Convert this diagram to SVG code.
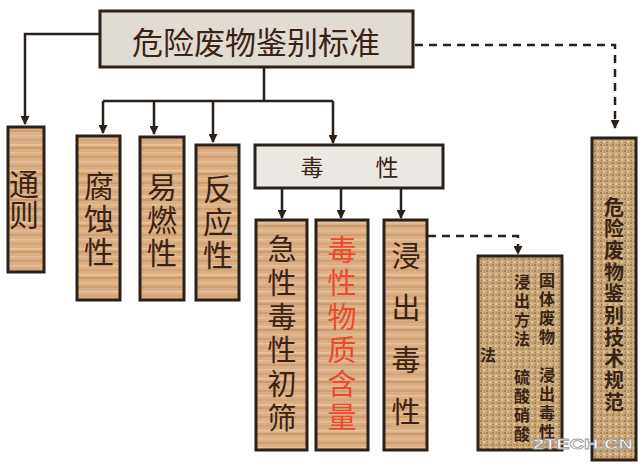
<svg xmlns="http://www.w3.org/2000/svg" width="640" height="467" viewBox="0 0 640 467">
<style>
.frame{stroke:#2a211b;stroke-width:3}
.wood{fill:url(#woodPat);stroke:#2a211b;stroke-width:3}
.cloth{fill:url(#clothPat);stroke:#2a211b;stroke-width:3}
.t{font-family:"Noto Sans CJK SC","Noto Sans CJK TC",sans-serif;fill:#3a2314;text-anchor:middle;dominant-baseline:central}
.v{font-family:"Noto Sans CJK SC","Noto Sans CJK TC",sans-serif;fill:#3a2314;writing-mode:vertical-rl;text-orientation:upright;text-anchor:start}
.red{fill:#ec4a2c}
.ln{fill:none;stroke:#2a211b;stroke-width:2.5}
.dash{fill:none;stroke:#2a211b;stroke-width:2.5;stroke-dasharray:8 6}
</style>
<defs>
<pattern id="woodPat" patternUnits="userSpaceOnUse" width="40" height="26">
<rect width="40" height="26" fill="#dbae84"/>
<rect y="0" width="40" height="2" fill="#cf9e71"/>
<rect y="5" width="40" height="1.5" fill="#e4c19c"/>
<rect y="9" width="40" height="2" fill="#d4a579"/>
<rect y="14" width="40" height="1.5" fill="#e6c5a1"/>
<rect y="17" width="40" height="2" fill="#cc9a6c"/>
<rect y="22" width="40" height="1.5" fill="#e1bd96"/>
</pattern>
<pattern id="clothPat" patternUnits="userSpaceOnUse" width="6" height="6">
<rect width="6" height="6" fill="#c9a779"/>
<rect x="0" y="0" width="2" height="2" fill="#a3825a"/>
<rect x="3" y="3" width="2" height="2" fill="#e0c79f"/>
<rect x="4" y="0" width="1" height="2" fill="#b59266"/>
<rect x="1" y="4" width="1" height="1" fill="#93734b"/>
</pattern>
<marker id="arr" markerUnits="userSpaceOnUse" markerWidth="9" markerHeight="9" refX="8" refY="4.5" orient="auto">
<path d="M0,0 L9,4.5 L0,9 z" fill="#2a211b"/>
</marker>
</defs>
<rect width="640" height="467" fill="#ffffff"/>

<g id="connectors">
<path class="ln" d="M100,34 H25 V124" marker-end="url(#arr)"/>
<path class="ln" d="M264,68 V101"/>
<path class="ln" d="M103,101 H333"/>
<path class="ln" d="M103,101 V133" marker-end="url(#arr)"/>
<path class="ln" d="M154,101 V134" marker-end="url(#arr)"/>
<path class="ln" d="M213,101 V142" marker-end="url(#arr)"/>
<path class="ln" d="M333,101 V143" marker-end="url(#arr)"/>
<path class="ln" d="M282,189 V218" marker-end="url(#arr)"/>
<path class="ln" d="M341,189 V218" marker-end="url(#arr)"/>
<path class="ln" d="M401,189 V218" marker-end="url(#arr)"/>
<path class="dash" d="M415,45 H615 V128" marker-end="url(#arr)"/>
<path class="dash" d="M428,236 H518 V254" marker-end="url(#arr)"/>
</g>

<g id="n-standard">
<rect x="100" y="11" width="313" height="56" fill="#e1dcd3" class="frame"/>
<text class="t" x="256" y="40" font-size="31">危险废物鉴别标准</text>
</g>

<g id="n-general">
<rect class="wood" x="8" y="127" width="36" height="145"/>
<text class="v" x="24" y="169" font-size="30" letter-spacing="1">通则</text>
</g>

<g id="n-corrosive">
<rect class="wood" x="77" y="136" width="43" height="164"/>
<text class="v" x="99" y="171" font-size="30" letter-spacing="3">腐蚀性</text>
</g>

<g id="n-flammable">
<rect class="wood" x="140" y="137" width="44" height="163"/>
<text class="v" x="162" y="172" font-size="30" letter-spacing="3">易燃性</text>
</g>

<g id="n-reactive">
<rect class="wood" x="196" y="145" width="43" height="155"/>
<text class="v" x="218" y="174" font-size="30" letter-spacing="3">反应性</text>
</g>

<g id="n-toxicity">
<rect x="255" y="145" width="188" height="43" fill="#ebe8e3" class="frame"/>
<text class="t" x="312" y="166" font-size="23">毒</text>
<text class="t" x="387" y="166" font-size="23">性</text>
</g>

<g id="n-acute">
<rect class="wood" x="256" y="220" width="51" height="230"/>
<text class="v" x="282" y="234.5" font-size="29" letter-spacing="4.8">急性毒性初筛</text>
</g>

<g id="n-content">
<rect class="wood" x="316" y="220" width="52" height="230"/>
<text class="v red" x="342" y="235.5" font-size="29" letter-spacing="4.4">毒性物质含量</text>
</g>

<g id="n-leaching">
<rect class="wood" x="384" y="220" width="43" height="230"/>
<text class="v" x="406" y="241.5" font-size="29" letter-spacing="23">浸出毒性</text>
</g>

<g id="n-method">
<rect class="cloth" x="478" y="256" width="84" height="194"/>
<text class="v" x="547" y="272" font-size="16" font-weight="bold" letter-spacing="3">固体废物　浸出毒性</text>
<text class="v" x="522" y="274" font-size="16" font-weight="bold" letter-spacing="3">浸出方法　硫酸硝酸</text>
<text class="v" x="488" y="347" font-size="16" font-weight="bold">法</text>
</g>

<g id="n-spec">
<rect class="cloth" x="592" y="138" width="44" height="322"/>
<text class="v" x="614" y="197" font-size="20" font-weight="bold" letter-spacing="1.7">危险废物鉴别技术规范</text>
</g>

<text x="583" y="443" font-family="'Liberation Sans',sans-serif" font-size="15" font-weight="bold" text-anchor="middle" dominant-baseline="central" textLength="100" lengthAdjust="spacingAndGlyphs" fill="#ffffff" stroke="#9a9a9a" stroke-width="0.8">2TECH.CN</text>
</svg>
